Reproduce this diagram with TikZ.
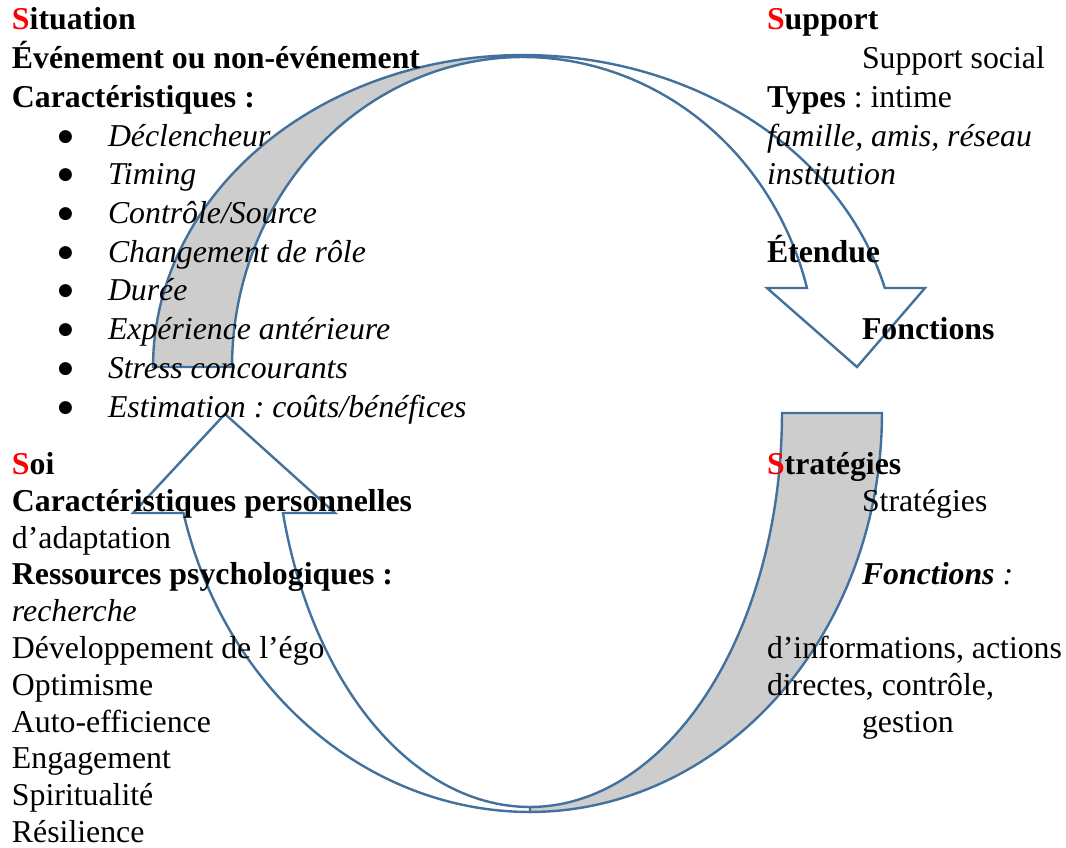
\documentclass[tikz,border=0pt]{standalone}
\usepackage{fontspec}
\setmainfont{Liberation Serif}
\newfontfamily\symfont{DejaVu Sans}
\frenchspacing
\definecolor{edge}{RGB}{65,113,156}
\definecolor{band}{RGB}{205,205,205}
\definecolor{sred}{RGB}{255,0,0}
\tikzset{
  shape line/.style={draw=edge, line width=2.4pt, line join=miter},
  txt/.style={anchor=base west, inner sep=0pt, outer sep=0pt, font=\fontsize{31.8}{38}\selectfont\frenchspacing},
  bul/.style={anchor=base west, inner sep=0pt, outer sep=0pt, font=\symfont\fontsize{17}{18}\selectfont},
}
\newcommand{\RS}{{\color{sred}S}}
\begin{document}
\begin{tikzpicture}[x=1pt,y=-1pt]
\useasboundingbox (0,0) rectangle (1066,848);
% top curved arrow: shaded back band
\path[shape line, fill=band]
  plot[domain=180:90, samples=60] ({523+370*cos(\x)},{367-312*sin(\x)})
  -- plot[domain=90:180, samples=60] ({523+291*cos(\x)},{367-310*sin(\x)}) -- cycle;
% top curved arrow: front band with head
\path[shape line, fill=white]
  plot[domain=90:14.67, samples=60] ({523+374*cos(\x)},{367-312*sin(\x)})
  -- (925,288) coordinate (th1) -- (857,367) coordinate (ttip) -- (767,288) coordinate (th2)
  -- plot[domain=14.76:90, samples=60] ({523+293.7*cos(\x)},{367-310*sin(\x)}) -- cycle;
% bottom curved arrow: shaded back band
\path[shape line, fill=band]
  plot[domain=0:90, samples=60] ({530+352*cos(\x)},{413+399*sin(\x)})
  -- plot[domain=90:0, samples=60] ({530+252*cos(\x)},{413+394*sin(\x)}) -- cycle;
% bottom curved arrow: front band with head
\path[shape line, fill=white]
  plot[domain=90:165.49, samples=60] ({530+358*cos(\x)},{413+399*sin(\x)})
  -- (133,513) coordinate (bh1) -- (225,414) coordinate (btip) -- (335,513) coordinate (bh2)
  -- plot[domain=165.30:90, samples=60] ({530+255.4*cos(\x)},{413+394*sin(\x)}) -- cycle;

% ---- Situation ----
\node[txt] (s0) at (12,30) {\textbf{\RS ituation}};
\node[txt] (s1) at (12,68.7) {\textbf{Événement ou non-événement}};
\node[txt] (s2) at (12,107.4) {\textbf{Caractéristiques :}};
\foreach \t [count=\i] in {Déclencheur,Timing,Contrôle/Source,Changement de rôle,Durée,Expérience antérieure,Stress concourants,Estimation : coûts/bénéfices}{
  \node[bul] (b\i) at (58,{107.4+38.7*\i-5}) {●};
  \node[txt] (i\i) at (108,{107.4+38.7*\i}) {\textit{\t}};
}
% ---- Support ----
\node[txt] (p0) at (767,30) {\textbf{\RS upport}};
\node[txt] (p1) at (862,68.7) {Support social};
\node[txt] (p2) at (767,107.4) {\textbf{Types} : intime};
\node[txt] (p3) at (767,146.1) {\textit{famille, amis, réseau}};
\node[txt] (p4) at (767,184.8) {\textit{institution}};
\node[txt] (p5) at (767,262.2) {\textbf{Étendue}};
\node[txt] (p6) at (862,339.6) {\textbf{Fonctions}};
% ---- Soi ----
\node[txt] (o0) at (12,474.5) {\textbf{\RS oi}};
\node[txt] (o1) at (12,511.3) {\textbf{Caractéristiques personnelles}};
\node[txt] (o2) at (12,548.1) {d’adaptation};
\node[txt] (o3) at (12,584.9) {\textbf{Ressources psychologiques :}};
\node[txt] (o4) at (12,621.7) {\textit{recherche}};
\node[txt] (o5) at (12,658.5) {Développement de l’égo};
\node[txt] (o6) at (12,695.3) {Optimisme};
\node[txt] (o7) at (12,732.1) {Auto-efficience};
\node[txt] (o8) at (12,768.9) {Engagement};
\node[txt] (o9) at (12,805.7) {Spiritualité};
\node[txt] (o10) at (12,842.5) {Résilience};
% ---- Stratégies ----
\node[txt] (r0) at (767,474.5) {\textbf{\RS tratégies}};
\node[txt] (r1) at (862,511.3) {Stratégies};
\node[txt] (r2) at (862,584.9) {\textit{\textbf{Fonctions} :}};
\node[txt] (r3) at (767,658.5) {d’informations, actions};
\node[txt] (r4) at (767,695.3) {directes, contrôle,};
\node[txt] (r5) at (862,732.1) {gestion};
\end{tikzpicture}
\end{document}
